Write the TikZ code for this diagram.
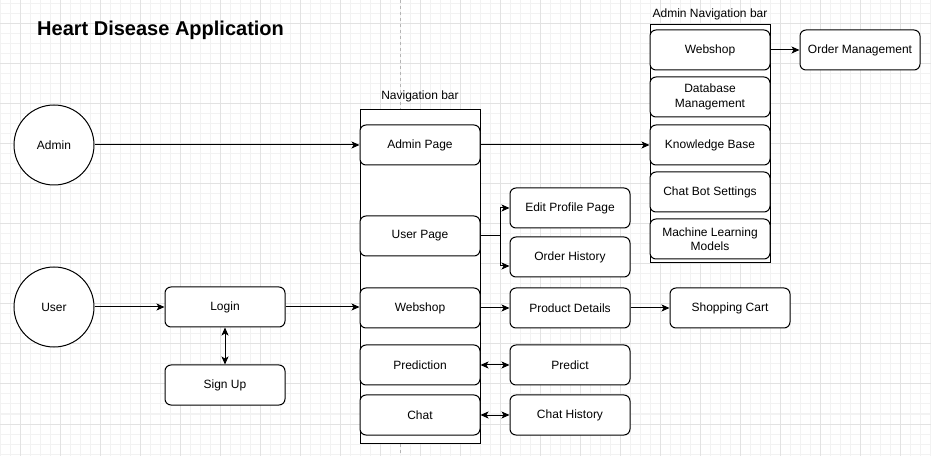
\documentclass[tikz,border=0pt]{standalone}
\usepackage{fontspec}
\setmainfont{Liberation Sans}
\usetikzlibrary{arrows.meta}
\definecolor{gridmajor}{HTML}{E2E2E2}
\definecolor{gridminor}{HTML}{F2F2F2}
\definecolor{pagebreak}{HTML}{B4B4B4}
\begin{document}
\begin{tikzpicture}[x=1bp, y=-1bp,
	every node/.style={font=\fontsize{12bp}{14.5bp}\selectfont},
	page/.style={draw, line width=1bp, rounded corners=6bp, fill=white, minimum width=120bp, minimum height=40bp, inner sep=0pt, align=center},
	actor/.style={draw, line width=1bp, circle, fill=white, minimum size=80bp, inner sep=0pt},
	bar/.style={draw, line width=1bp, fill=white, minimum width=120bp, inner sep=0pt},
	link/.style={line width=1bp, -{Stealth[length=8bp, width=7bp, inset=2bp]}},
	twoway/.style={line width=1bp, {Stealth[length=8bp, width=7bp, inset=2bp]}-{Stealth[length=8bp, width=7bp, inset=2bp]}}]
	\useasboundingbox (0,0) rectangle (931,456);
	% background grid
	\foreach \gx in {0,10,...,930} \draw[gridminor, line width=1bp] (\gx,0) -- (\gx,456);
	\foreach \gy in {4,14,...,454} \draw[gridminor, line width=1bp] (0,\gy) -- (931,\gy);
	\foreach \gx in {20,60,...,900} \draw[gridmajor, line width=1bp] (\gx,0) -- (\gx,456);
	\foreach \gy in {24,64,...,424} \draw[gridmajor, line width=1bp] (0,\gy) -- (931,\gy);
	\draw[pagebreak, line width=1bp, dash pattern=on 3bp off 3bp] (400,0) -- (400,456);
	
	\node[font=\bfseries\fontsize{20bp}{24bp}\selectfont, anchor=west, inner sep=0pt] (title) at (37,30) {Heart Disease Application};
	
	% navigation bars
	\node[bar, minimum height=333bp] (navbar) at (420,276.5) {};
	\node (navlabel) at (420,96) {Navigation bar};
	\node[bar, minimum height=238bp] (adminnav) at (710,144) {};
	\node (adminnavlabel) at (710,14) {Admin Navigation bar};
	
	\node[actor] (admin) at (54,145) {Admin};
	\node[actor] (user) at (54,307) {User};
	\node[page] (login) at (225,307) {Login};
	\node[page] (signup) at (225,385) {Sign Up};
	
	\node[page] (adminpage) at (420,145) {Admin Page};
	\node[page] (userpage) at (420,236) {User Page};
	\node[page] (webshop) at (420,308) {Webshop};
	\node[page] (prediction) at (420,365) {Prediction};
	\node[page] (chat) at (420,415) {Chat};
	
	\node[page] (editprofile) at (570,208) {Edit Profile Page};
	\node[page] (orderhistory) at (570,257) {Order History};
	\node[page] (productdetails) at (570,308) {Product Details};
	\node[page] (shoppingcart) at (730,308) {Shopping Cart};
	\node[page] (predict) at (570,365) {Predict};
	\node[page] (chathistory) at (570,415) {Chat History};
	
	\node[page] (awebshop) at (710,50) {Webshop};
	\node[page] (database) at (710,97) {Database\\Management};
	\node[page] (knowledge) at (710,145) {Knowledge Base};
	\node[page] (chatbot) at (710,192) {Chat Bot Settings};
	\node[page] (mlmodels) at (710,239) {Machine Learning\\Models};
	\node[page] (ordermgmt) at (860,50) {Order Management};
	
	% connectors
	\draw[link] (admin) -- (adminpage);
	\draw[link] (adminpage) -- (knowledge);
	\draw[link] (awebshop) -- (ordermgmt);
	\draw[link] (user) -- (login);
	\draw[link] (login.east) -- (login.east -| webshop.west);
	\draw[twoway] (login) -- (signup);
	\draw[link] (userpage.east) -- ++(20,0) |- (editprofile.west);
	\draw[link] (userpage.east) -- ++(20,0) |- ([yshift=-9bp]orderhistory.west);
	\draw[link] (webshop) -- (productdetails);
	\draw[link] (productdetails) -- (shoppingcart);
	\draw[twoway] (prediction) -- (predict);
	\draw[twoway] (chat) -- (chathistory);
\end{tikzpicture}
\end{document}
